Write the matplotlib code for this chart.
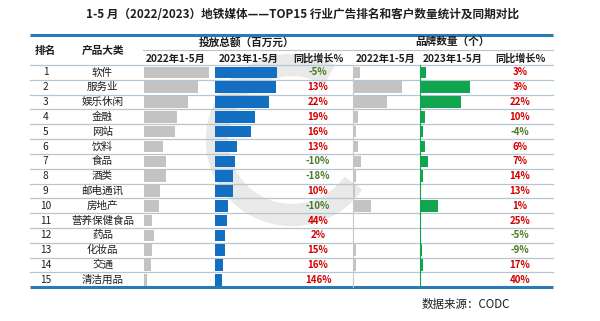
import matplotlib
matplotlib.use("Agg")
import matplotlib.pyplot as plt
from matplotlib.patches import Arc

plt.rcParams['font.family'] = ['Noto Sans CJK SC', 'DejaVu Sans']

# ---------------- data ----------------
title = "1-5 月（2022/2023）地铁媒体——TOP15 行业广告排名和客户数量统计及同期对比"
ranks = list(range(1, 16))
categories = ["软件", "服务业", "娱乐休闲", "金融", "网站", "饮料", "食品", "酒类",
              "邮电通讯", "房地产", "营养保健食品", "药品", "化妆品", "交通", "清洁用品"]
invest_2022 = [650, 540, 440, 330, 305, 190, 215, 220, 157, 144, 80, 97, 80, 70, 25]
invest_2023 = [617, 610, 537, 393, 354, 215, 193, 180, 173, 130, 115, 99, 92, 81, 62]
invest_growth = [-5, 13, 22, 19, 16, 13, -10, -18, 10, -10, 44, 2, 15, 16, 146]
brand_2022 = [62, 490, 340, 48, 28, 43, 77, 30, 12, 177, 10, 9, 24, 26, 5]
brand_2023 = [64, 505, 415, 53, 27, 46, 82, 34, 14, 179, 12, 9, 22, 30, 7]
brand_growth = [3, 3, 22, 10, -4, 6, 7, 14, 13, 1, 25, -5, -9, 17, 40]
group_headers = ["投放总额（百万元）", "品牌数量（个）"]
sub_headers = ["2022年1-5月", "2023年1-5月", "同比增长%", "2022年1-5月", "2023年1-5月", "同比增长%"]
col_headers = ["排名", "产品大类"]
source = "数据来源：CODC"

# ---------------- layout ----------------
W, H = 600, 321
fig = plt.figure(figsize=(W / 100, H / 100), dpi=100)
fig.patch.set_facecolor("white")
ax = fig.add_axes([0, 0, 1, 1])
ax.set_xlim(0, W)
ax.set_ylim(H, 0)
ax.axis("off")

L, R = 30, 553
top_line, head_mid, head_bot, bot_line = 35, 50, 65, 287.3
row_h = (bot_line - head_bot) / 15
blue_line = "#2a7ab5"
sep_col = "#b4c6d3"
dark = "#1e1e1e"
red = "#d40000"
green_txt = "#4d7a26"

# watermark
ax.add_patch(Arc((292, 140), 150, 150, angle=0, theta1=35, theta2=300,
                 color="#e0e0e0", lw=16, alpha=0.7, zorder=0))

ax.text(302, 15, title, ha="center", va="center", fontsize=8.4,
        fontweight="bold", color=dark)

ax.plot([L, R], [top_line, top_line], color=blue_line, lw=2.2, solid_capstyle="butt")
ax.plot([L, R], [bot_line, bot_line], color=blue_line, lw=2.2, solid_capstyle="butt")
ax.plot([143, R], [head_mid, head_mid], color=sep_col, lw=0.8)
ax.plot([L, R], [head_bot, head_bot], color=sep_col, lw=0.9)
for k in range(1, 15):
    y = head_bot + k * row_h
    ax.plot([L, R], [y, y], color=sep_col, lw=0.9)

hfs = 7.3
ax.text(45.5, 50.5, col_headers[0], ha="center", va="center", fontsize=hfs + 0.4, fontweight="bold", color=dark)
ax.text(102.5, 50.5, col_headers[1], ha="center", va="center", fontsize=hfs + 0.4, fontweight="bold", color=dark)
ax.text(247, 42, group_headers[0], ha="center", va="center", fontsize=hfs + 0.4, fontweight="bold", color=dark)
ax.text(452, 42, group_headers[1], ha="center", va="center", fontsize=hfs + 0.4, fontweight="bold", color=dark)
sub_x = [176, 249, 318, 386, 452.5, 520]
for x, s in zip(sub_x, sub_headers):
    ax.text(x, 58.5, s, ha="center", va="center", fontsize=hfs, fontweight="bold", color=dark)

for i in range(15):
    yc = head_bot + (i + 0.5) * row_h
    ax.text(45.5, yc, str(ranks[i]), ha="center", va="center", fontsize=7.3, color=dark)
    ax.text(102.5, yc, categories[i], ha="center", va="center", fontsize=7.6, color=dark)
    g = invest_growth[i]
    ax.text(318, yc, f"{g}%", ha="center", va="center", fontsize=7,
            fontweight="bold", color=red if g >= 0 else green_txt)
    g = brand_growth[i]
    ax.text(520, yc, f"{g}%", ha="center", va="center", fontsize=7,
            fontweight="bold", color=red if g >= 0 else green_txt)

ax.text(466, 304.5, source, ha="center", va="center", fontsize=8.3, color=dark)


# ---------------- bar columns ----------------
def bar_axes(x0, width_px, xmax, values, color, spine=None):
    a = fig.add_axes([x0 / W, 1 - bot_line / H, width_px / W, (bot_line - head_bot) / H])
    a.patch.set_alpha(0)
    a.barh(range(15), values, height=0.78, color=color, left=0)
    a.set_xlim(0, xmax)
    a.set_ylim(14.5, -0.5)
    a.set_xticks([])
    a.set_yticks([])
    for s in a.spines.values():
        s.set_visible(False)
    if spine:
        a.spines["left"].set_visible(True)
        a.spines["left"].set_color(spine)
        a.spines["left"].set_linewidth(0.8)
    return a


bar_axes(144.3, 70, 700, invest_2022, "#c3c3c3")
bar_axes(215.3, 70, 700, invest_2023, "#136fc2")
bar_axes(353.3, 66, 660, brand_2022, "#c3c3c3", spine="#c8c8c8")
bar_axes(420.0, 66, 660, brand_2023, "#12a550", spine="#12a550")

fig.savefig("out.png", dpi=100)
